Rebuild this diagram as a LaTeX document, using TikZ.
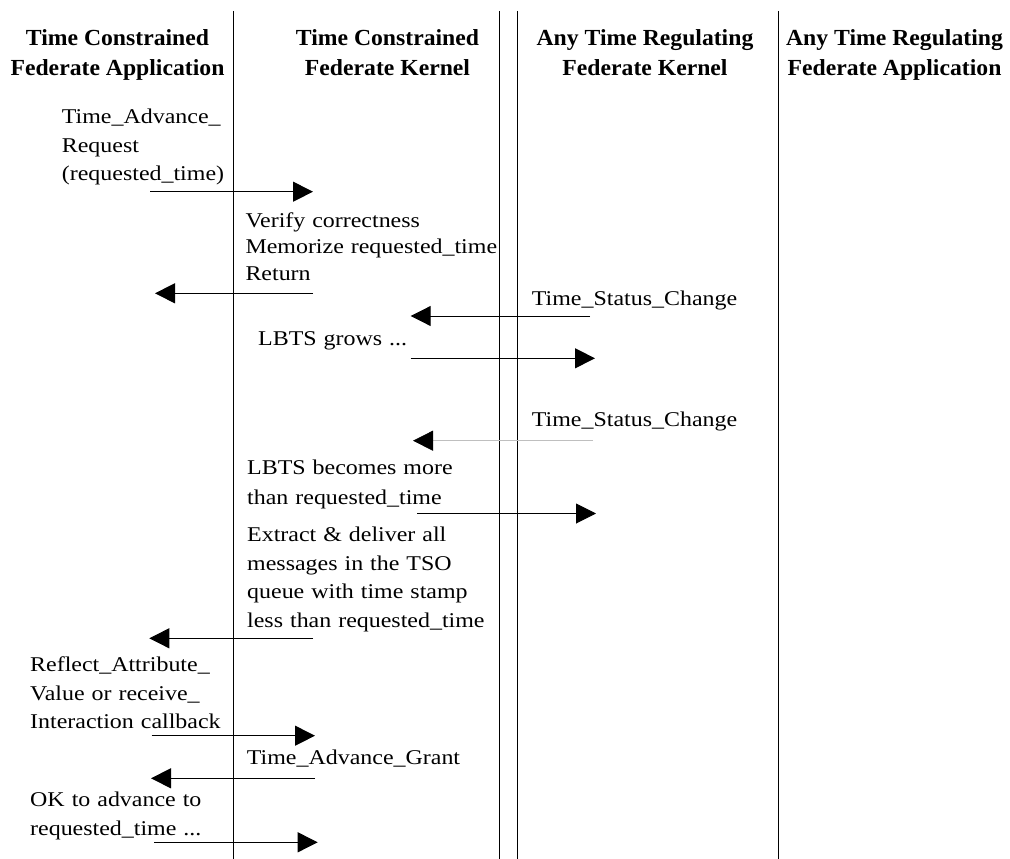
\documentclass[tikz,border=0pt]{standalone}
\usepackage{fontspec}
\setmainfont{Liberation Serif}
\usetikzlibrary{arrows.meta}
\newcommand{\bodyfont}{\fontsize{21}{28.5}\selectfont\addfontfeature{FakeStretch=1.14}}
\newcommand{\headfont}{\fontsize{23}{30}\selectfont\bfseries\addfontfeature{FakeStretch=1.03}}
\begin{document}
\begin{tikzpicture}[x=1pt,y=-1pt,
  lifeline/.style={line width=1pt},
  msg/.style={line width=1pt,-{Triangle[length=20pt,width=20pt]}},
  faintmsg/.style={line width=0.8pt,black!25,-{Triangle[length=20pt,width=20pt,color=black]}},
  txt/.style={inner sep=0pt,anchor=base west,align=left,text width=320pt,font=\bodyfont},
  head/.style={inner sep=0pt,anchor=base,align=center,font=\headfont}]
\useasboundingbox (0,0) rectangle (1010,859);
% lifelines
\draw[lifeline] (233,11) -- (233,859);
\draw[lifeline] (499,11) -- (499,859);
\draw[lifeline] (517,11) -- (517,859);
\draw[lifeline] (778,11) -- (778,859);
% headings
\node[head] (h1) at (117.5,76) {Time Constrained\\Federate Application};
\node[head] (h2) at (387.5,76) {Time Constrained\\Federate Kernel};
\node[head] (h3) at (645,76) {Any Time Regulating\\Federate Kernel};
\node[head] (h4) at (894.5,76) {Any Time Regulating\\Federate Application};
% texts
\node[txt] (t1) at (61.7,124) {Time\_Advance\_\\Request\\(requested\_time)};
\node[txt,font=\fontsize{21}{26.5}\selectfont\addfontfeature{FakeStretch=1.14}] (t2) at (245.3,227) {Verify correctness\\Memorize requested\_time\\Return};
\node[txt] (t3) at (531.7,305) {Time\_Status\_Change};
\node[txt] (t4) at (258,345) {LBTS grows ...};
\node[txt] (t5) at (531.7,426) {Time\_Status\_Change};
\node[txt,font=\fontsize{21}{30}\selectfont\addfontfeature{FakeStretch=1.14}] (t6) at (247,474) {LBTS becomes more\\than requested\_time};
\node[txt] (t7) at (247,541.7) {Extract \& deliver all\\messages in the TSO\\queue with time stamp\\less than requested\_time};
\node[txt] (t8) at (30,671.7) {Reflect\_Attribute\_\\Value or receive\_\\Interaction callback};
\node[txt] (t9) at (246.7,764) {Time\_Advance\_Grant};
\node[txt] (t10) at (30,806.7) {OK to advance to\\requested\_time ...};
% message end points
\coordinate (a1s) at (150,191.7);  \coordinate (a1e) at (313,191.7);
\coordinate (a2s) at (313,293.3);  \coordinate (a2e) at (155,293.3);
\coordinate (a3s) at (590,316);    \coordinate (a3e) at (410.7,316);
\coordinate (a4s) at (410.7,358.3);\coordinate (a4e) at (595,358.3);
\coordinate (a5s) at (593,440.7);  \coordinate (a5e) at (413,440.7);
\coordinate (a6s) at (417,513.5);  \coordinate (a6e) at (596,513.5);
\coordinate (a7s) at (313,638.3);  \coordinate (a7e) at (149.3,638.3);
\coordinate (a8s) at (151.7,735.7);\coordinate (a8e) at (315,735.7);
\coordinate (a9s) at (315,778.3);  \coordinate (a9e) at (151,778.3);
\coordinate (a10s) at (154,842.3); \coordinate (a10e) at (317.7,842.3);
% messages
\draw[msg] (a1s) -- (a1e);
\draw[msg] (a2s) -- (a2e);
\draw[msg] (a3s) -- (a3e);
\draw[msg] (a4s) -- (a4e);
\draw[faintmsg] (a5s) -- (a5e);
\draw[msg] (a6s) -- (a6e);
\draw[msg] (a7s) -- (a7e);
\draw[msg] (a8s) -- (a8e);
\draw[msg] (a9s) -- (a9e);
\draw[msg] (a10s) -- (a10e);
\end{tikzpicture}
\end{document}
